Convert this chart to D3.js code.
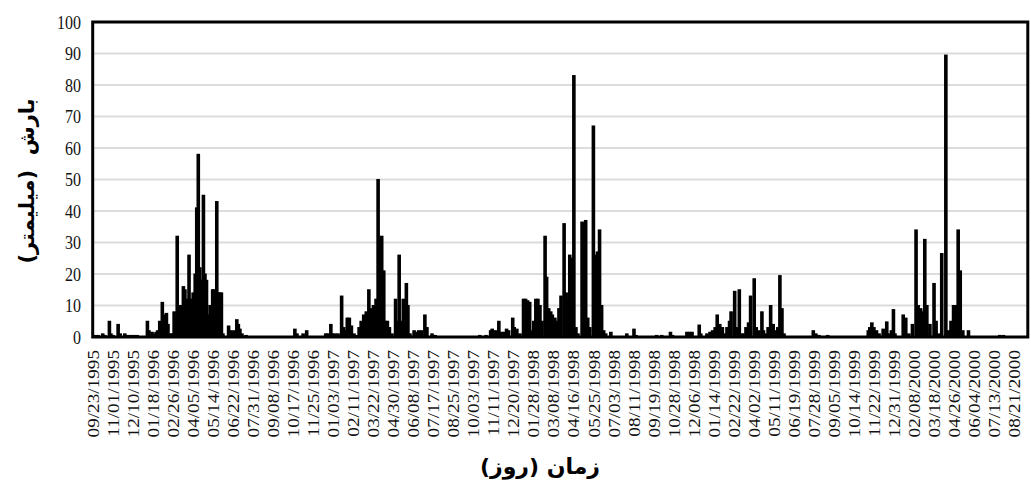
<!DOCTYPE html>
<html>
<head>
<meta charset="utf-8">
<script src="https://cdn.jsdelivr.net/npm/d3@7"></script>
<style>
  body { margin: 0; background: #fff; }
  svg { display: block; }
</style>
</head>
<body>
<svg id="chart" width="1031" height="485"></svg>
<script>
// daily rainfall, [day number counted from 09/23/1995, mm]; days not listed are dry
const wet1996 = [
  [4, 0.5], [10, 0.5], [19, 1], [23, 0.5], [32, 5], [35, 1], [39, 0.5], [49, 4], [53, 1],
  [62, 1], [68, 0.5], [74, 0.5], [80, 0.5], [86, 0.5], [106, 5], [109, 2], [115, 1.5],
  [119, 1], [123, 1.5], [126, 2], [130, 5], [135, 11], [138, 7], [143, 7.5], [146, 4],
  [150, 1], [154, 1], [158, 8], [161, 5], [164, 32], [167, 9], [171, 10], [176, 16],
  [179, 15], [183, 12], [187, 26], [191, 12], [195, 14], [199, 20], [202, 41], [205, 58],
  [208, 22], [211, 18], [215, 45], [218, 20], [221, 18], [224, 7], [228, 10], [233, 15],
  [236, 15], [241, 43], [244, 14], [247, 14], [250, 14], [253, 1], [264, 3.5], [269, 2],
  [272, 1], [276, 2], [280, 5.5], [283, 4], [286, 2.5], [290, 1], [298, 0.5],
  [393, 2.5], [397, 1], [409, 1], [416, 2]
];
const wet1997 = [
  [453, 1], [457, 1], [463, 4], [466, 1], [471, 1], [477, 1], [484, 13], [488, 3],
  [490, 2], [495, 6], [499, 6], [503, 3.5], [508, 1], [513, 0.5], [518, 3], [522, 5],
  [527, 7], [532, 8], [537, 15], [541, 9], [546, 10], [551, 12], [555, 50], [559, 31],
  [562, 32], [566, 21], [569, 5], [573, 5], [577, 3], [582, 1], [589, 12], [592, 5],
  [596, 26], [599, 5], [604, 12], [610, 17], [613, 10], [617, 1], [625, 2], [630, 1.5],
  [634, 2], [639, 2], [646, 7], [650, 3], [660, 1], [666, 0.5], [753, 0.5], [765, 0.5]
];
const wet1998 = [
  [774, 2], [777, 2.5], [780, 2], [785, 2], [790, 5], [795, 1.5], [800, 1.5], [805, 2.5],
  [809, 2], [817, 6], [820, 3], [825, 2.5], [831, 1], [838, 12], [842, 12], [846, 11.5],
  [850, 11], [854, 2], [858, 5], [862, 12], [866, 12], [870, 10], [874, 5], [880, 32],
  [883, 19], [887, 9], [891, 8], [894, 7], [899, 6], [903, 5], [907, 9], [911, 13],
  [917, 36], [921, 14], [925, 12], [928, 26], [932, 25], [936, 83], [940, 3], [944, 1],
  [952, 36.5], [955, 36], [959, 37], [963, 6], [967, 3], [974, 67], [978, 26], [982, 27],
  [986, 34], [990, 10], [994, 2], [998, 1], [1008, 1.5], [1039, 1], [1053, 2.5],
  [1057, 0.5], [1097, 0.5], [1107, 0.5], [1124, 1.5], [1128, 0.5], [1156, 1.5],
  [1161, 1.5], [1166, 1.5]
];
const wet1999 = [
  [1180, 3.8], [1183, 1], [1195, 1], [1201, 1.5], [1206, 2], [1211, 3], [1215, 7],
  [1220, 4], [1225, 3], [1230, 1], [1234, 3], [1239, 5], [1242, 8], [1249, 14.5],
  [1253, 3], [1258, 15], [1262, 1], [1267, 1], [1271, 3], [1276, 4.5], [1280, 13],
  [1287, 18.5], [1291, 3], [1296, 2], [1302, 8], [1305, 2], [1310, 1], [1314, 3],
  [1319, 10], [1324, 4], [1330, 2], [1333, 3], [1337, 19.5], [1341, 9], [1345, 1],
  [1402, 2], [1407, 1], [1413, 0.5], [1430, 0.5]
];
const wet2000 = [
  [1509, 2], [1512, 3], [1516, 4.5], [1520, 3], [1525, 2], [1530, 1], [1538, 2.5],
  [1545, 4.8], [1549, 1], [1554, 2], [1558, 8.7], [1561, 1], [1577, 7], [1582, 6],
  [1588, 1], [1595, 4], [1602, 34], [1606, 10], [1611, 9], [1613, 8], [1619, 31],
  [1623, 10], [1629, 4], [1637, 17], [1641, 5], [1646, 1], [1652, 26.5], [1660, 89.5],
  [1665, 2], [1670, 5], [1675, 10], [1679, 10], [1684, 34], [1688, 21], [1693, 2],
  [1704, 2], [1765, 0.5], [1772, 0.5]
];

const dateLabels = [
  '09/23/1995', '11/01/1995', '12/10/1995', '01/18/1996', '02/26/1996', '04/05/1996',
  '05/14/1996', '06/22/1996', '07/31/1996', '09/08/1996', '10/17/1996', '11/25/1996',
  '01/03/1997', '02/11/1997', '03/22/1997', '04/30/1997', '06/08/1997', '07/17/1997',
  '08/25/1997', '10/03/1997', '11/11/1997', '12/20/1997', '01/28/1998', '03/08/1998',
  '04/16/1998', '05/25/1998', '07/03/1998', '08/11/1998', '09/19/1998', '10/28/1998',
  '12/06/1998', '01/14/1999', '02/22/1999', '04/02/1999', '05/11/1999', '06/19/1999',
  '07/28/1999', '09/05/1999', '10/14/1999', '11/22/1999', '12/31/1999', '02/08/2000',
  '03/18/2000', '04/26/2000', '06/04/2000', '07/13/2000', '08/21/2000'
];
const labelStep = 39; // days between category labels
const nDays = 1820;
const yTicks = [0, 10, 20, 30, 40, 50, 60, 70, 80, 90, 100];

const serif = "'Liberation Serif', 'DejaVu Serif', serif";

const svg = d3.select('#chart');
const plotL = 92.7, plotR = 1027.8, plotT = 22, plotB = 337;

const x = d3.scaleLinear().domain([0, nDays]).range([plotL, plotR]);
const y = d3.scaleLinear().domain([0, 100]).range([plotB, plotT]);

// grid
svg.append('g')
  .selectAll('line')
  .data(yTicks.filter(v => v > 0 && v < 100))
  .join('line')
  .attr('x1', plotL).attr('x2', plotR)
  .attr('y1', d => y(d)).attr('y2', d => y(d))
  .attr('stroke', '#dcdcdc')
  .attr('stroke-width', 2);

// bars
const rain = [].concat(wet1996, wet1997, wet1998, wet1999, wet2000);
svg.append('g')
  .selectAll('rect')
  .data(rain)
  .join('rect')
  .attr('x', d => x(d[0] + 0.5) - 1.8)
  .attr('width', 3.6)
  .attr('y', d => y(d[1]) - 0.5)
  .attr('height', d => y(0) - y(d[1]) + 0.5)
  .attr('fill', '#000');

// frame
svg.append('rect')
  .attr('x', plotL).attr('y', plotT)
  .attr('width', plotR - plotL).attr('height', plotB - plotT)
  .attr('fill', 'none')
  .attr('stroke', '#000')
  .attr('stroke-width', 3);

// y tick labels
svg.append('g')
  .selectAll('text')
  .data(yTicks)
  .join('text')
  .style('font-family', serif)
  .style('font-size', '16px')
  .attr('transform', d => `translate(81,${y(d)}) scale(1,1.2)`)
  .attr('dy', '0.35em')
  .attr('text-anchor', 'end')
  .attr('fill', '#111')
  .text(d => d);

// x tick labels
svg.append('g')
  .selectAll('text')
  .data(dateLabels)
  .join('text')
  .style('font-family', serif)
  .style('font-size', '16px')
  .attr('transform', (d, i) => `translate(${x(i * labelStep + 0.5)},350) rotate(-90) scale(1.2,1)`)
  .attr('dy', '0.35em')
  .attr('text-anchor', 'end')
  .attr('fill', '#111')
  .text(d => d);

// axis titles
svg.append('text')
  .attr('transform', 'translate(27,181) rotate(-90)')
  .attr('dy', '0.35em')
  .attr('text-anchor', 'middle')
  .style('font-family', "'DejaVu Sans', sans-serif")
  .style('font-weight', 'bold')
  .style('font-size', '21px')
  .style('white-space', 'pre')
  .text('بارش  (میلیمتر)');

svg.append('text')
  .attr('x', 540).attr('y', 466)
  .attr('dy', '0.35em')
  .attr('text-anchor', 'middle')
  .style('font-family', "'DejaVu Sans', sans-serif")
  .style('font-weight', 'bold')
  .style('font-size', '22px')
  .text('زمان (روز)');
</script>
</body>
</html>
